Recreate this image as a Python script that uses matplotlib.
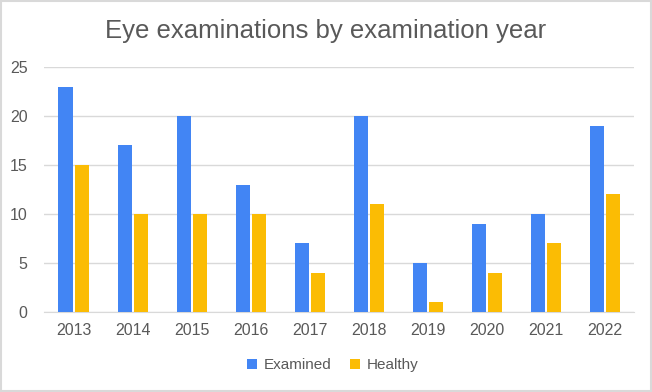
import numpy as np
import matplotlib.pyplot as plt
from matplotlib.patches import Rectangle

plt.rcParams['font.family'] = ['Liberation Sans', 'DejaVu Sans']

years = ['2013', '2014', '2015', '2016', '2017', '2018', '2019', '2020', '2021', '2022']
examined = [23, 17, 20, 13, 7, 20, 5, 9, 10, 19]
healthy = [15, 10, 10, 10, 4, 11, 1, 4, 7, 12]

blue = '#4285F4'
yellow = '#FBBC04'
text_col = '#595959'

fig = plt.figure(figsize=(6.52, 3.92), dpi=100)
ax = fig.add_axes([0.068, 0.204, 0.905, 0.625])

x = np.arange(len(years))
w = 0.24
ax.bar(x - 0.14, examined, w, color=blue, label='Examined', zorder=3)
ax.bar(x + 0.14, healthy, w, color=yellow, label='Healthy', zorder=3)

ax.set_xlim(-0.5, len(years) - 0.5)
ax.set_ylim(0, 25)
ax.set_yticks(range(0, 26, 5))
ax.set_xticks(x)
ax.set_xticklabels(years)
ax.grid(axis='y', color='#D9D9D9', linewidth=1, zorder=0)
for s in ['top', 'right', 'left']:
    ax.spines[s].set_visible(False)
ax.spines['bottom'].set_color('#D9D9D9')
ax.tick_params(axis='both', length=0, labelsize=11.5, colors=text_col, pad=8)
ax.tick_params(axis='y', pad=12)

fig.text(0.5, 0.922, 'Eye examinations by examination year', ha='center', va='center',
         fontsize=18.5, color=text_col)
fig.legend(loc='center', bbox_to_anchor=(0.51, 0.068), ncol=2, frameon=False,
           fontsize=11, handlelength=0.7, handleheight=0.7, handletextpad=0.4,
           columnspacing=1.2, labelcolor=text_col)

fig.patches.append(Rectangle((0.002, 0.003), 0.996, 0.994, transform=fig.transFigure,
                             fill=False, edgecolor='#D9D9D9', linewidth=1.5))

fig.savefig('out.png', dpi=100)
